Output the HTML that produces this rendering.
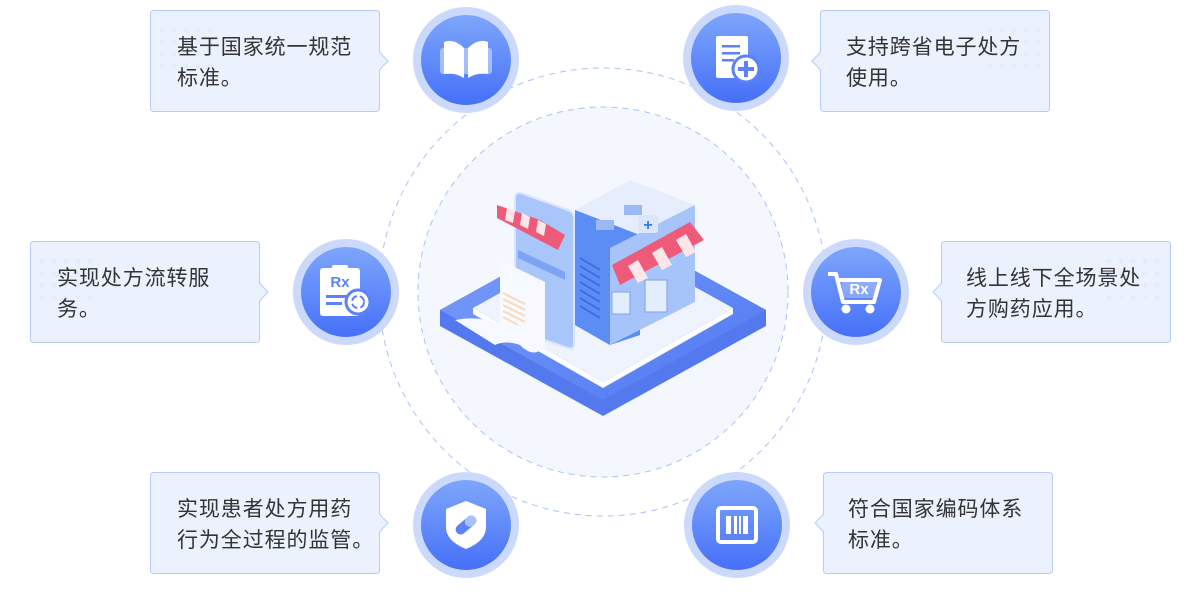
<!DOCTYPE html>
<html><head><meta charset="utf-8"><style>
html,body{margin:0;padding:0;background:#fff;}
body{width:1200px;height:610px;overflow:hidden;position:relative;font-family:"Liberation Sans","Noto Sans CJK SC",sans-serif;}
.t{position:absolute;font-size:21px;line-height:31px;color:#333;letter-spacing:0.9px;}
</style></head><body>
<svg width="1200" height="610" style="position:absolute;left:0;top:0">
<defs>
<linearGradient id="ig" x1="0" y1="0" x2="0" y2="1"><stop offset="0" stop-color="#7ea6fb"/><stop offset="1" stop-color="#4670f8"/></linearGradient>
<linearGradient id="pg" x1="0" y1="0" x2="1" y2="1"><stop offset="0" stop-color="#7d9ff8"/><stop offset="1" stop-color="#4f78f3"/></linearGradient>
<g id="card"><path d="M0.5 4 Q0.5 0.5 4 0.5 H226 Q229.5 0.5 229.5 4 V98 Q229.5 101.5 226 101.5 H4 Q0.5 101.5 0.5 98 Z" fill="#ebf2fe" stroke="#b7cdf7"/></g>
<g id="dots" fill="#e2ecfc"><circle cx="0" cy="0" r="2.5"/><circle cx="12" cy="0" r="2.5"/><circle cx="24" cy="0" r="2.5"/><circle cx="36" cy="0" r="2.5"/><circle cx="48" cy="0" r="2.5"/><circle cx="0" cy="12" r="2.5"/><circle cx="12" cy="12" r="2.5"/><circle cx="24" cy="12" r="2.5"/><circle cx="36" cy="12" r="2.5"/><circle cx="48" cy="12" r="2.5"/><circle cx="0" cy="24" r="2.5"/><circle cx="12" cy="24" r="2.5"/><circle cx="24" cy="24" r="2.5"/><circle cx="36" cy="24" r="2.5"/><circle cx="48" cy="24" r="2.5"/><circle cx="0" cy="36" r="2.5"/><circle cx="12" cy="36" r="2.5"/><circle cx="24" cy="36" r="2.5"/><circle cx="36" cy="36" r="2.5"/><circle cx="48" cy="36" r="2.5"/></g>
<g id="ic"><circle r="53" fill="#cbdafc"/><circle r="45" fill="url(#ig)"/></g>
</defs>
<circle cx="603" cy="292" r="224" fill="none" stroke="#a9c3f5" stroke-dasharray="6 5"/>
<circle cx="603" cy="292" r="185" fill="#f4f8fe" stroke="#a9c3f5" stroke-dasharray="6 5"/>
<g transform="translate(150,10)"><use href="#card"/><use href="#dots" x="12" y="20"/><path d="M229.5 42 L238 51 L229.5 60" fill="#ebf2fe" stroke="#b7cdf7"/><rect x="228" y="43" width="2" height="16" fill="#ebf2fe"/></g>
<g transform="translate(820,10)"><use href="#card"/><use href="#dots" x="170" y="20"/><path d="M0.5 42 L-8 51 L0.5 60" fill="#ebf2fe" stroke="#b7cdf7"/><rect x="0" y="43" width="2" height="16" fill="#ebf2fe"/></g>
<g transform="translate(30,241)"><use href="#card"/><use href="#dots" x="12" y="20"/><path d="M229.5 42 L238 51 L229.5 60" fill="#ebf2fe" stroke="#b7cdf7"/><rect x="228" y="43" width="2" height="16" fill="#ebf2fe"/></g>
<g transform="translate(941,241)"><use href="#card"/><use href="#dots" x="168" y="20"/><path d="M0.5 42 L-8 51 L0.5 60" fill="#ebf2fe" stroke="#b7cdf7"/><rect x="0" y="43" width="2" height="16" fill="#ebf2fe"/></g>
<g transform="translate(150,472)"><use href="#card"/><path d="M229.5 42 L238 51 L229.5 60" fill="#ebf2fe" stroke="#b7cdf7"/><rect x="228" y="43" width="2" height="16" fill="#ebf2fe"/></g>
<g transform="translate(823,472)"><use href="#card"/><path d="M0.5 42 L-8 51 L0.5 60" fill="#ebf2fe" stroke="#b7cdf7"/><rect x="0" y="43" width="2" height="16" fill="#ebf2fe"/></g>
<g transform="translate(466,60)"><use href="#ic"/><rect x="-26" y="-12" width="52" height="26" rx="3" fill="#b5cbfb" opacity="0.8"/><path d="M-2 -12 Q-12 -22 -22 -18 V14 Q-12 12 -2 18 Z" fill="#fff"/><path d="M2 -12 Q12 -22 22 -18 V14 Q12 12 2 18 Z" fill="#fff"/></g>
<g transform="translate(736,58)"><use href="#ic"/><rect x="-20" y="-22" width="32" height="42" rx="2" fill="#fff"/><g fill="#5b82f9"><rect x="-14" y="-13" width="18" height="2.5"/><rect x="-14" y="-6" width="18" height="2.5"/><rect x="-14" y="1" width="12" height="2.5"/></g><circle cx="10" cy="11" r="13" fill="#fff" stroke="#5b82f9" stroke-width="3"/><rect x="2" y="9" width="16" height="4" fill="#5b82f9"/><rect x="8" y="3" width="4" height="16" fill="#5b82f9"/></g>
<g transform="translate(346,292)"><use href="#ic"/><rect x="-26" y="-24" width="40" height="48" rx="3" fill="#fff"/><rect x="-14" y="-27" width="16" height="6" rx="2" fill="#fff"/><text x="-6" y="-5" font-size="15" font-weight="bold" fill="#5b82f9" text-anchor="middle" font-family="Liberation Sans">Rx</text><rect x="-20" y="3" width="22" height="3" fill="#5b82f9"/><rect x="-20" y="10" width="16" height="3" fill="#5b82f9"/><circle cx="12" cy="10" r="12" fill="#fff" stroke="#5b82f9" stroke-width="3"/><circle cx="12" cy="10" r="6" fill="none" stroke="#5b82f9" stroke-width="2" stroke-dasharray="7 3"/></g>
<g transform="translate(856,292)"><use href="#ic"/><path d="M-28 -18 H-20 L-13 10 H18 L24 -12 H-17" fill="none" stroke="#fff" stroke-width="4" stroke-linejoin="round"/><rect x="-14" y="-14" width="34" height="20" fill="#fff" opacity="0.25"/><text x="3" y="2" font-size="15" font-weight="bold" fill="#fff" text-anchor="middle" font-family="Liberation Sans">Rx</text><circle cx="-10" cy="17" r="4.5" fill="#fff"/><circle cx="14" cy="17" r="4.5" fill="#fff"/></g>
<g transform="translate(466,525)"><use href="#ic"/><path d="M0 -24 L20 -16 V2 Q20 16 0 24 Q-20 16 -20 2 V-16 Z" fill="#fff"/><rect x="-12" y="-5" width="24" height="10" rx="5" fill="#5b82f9" transform="rotate(-40)"/><rect x="0" y="-5" width="12" height="10" rx="5" fill="#a9c0fb" transform="rotate(-40)"/></g>
<g transform="translate(737,525)"><use href="#ic"/><rect x="-19" y="-17" width="38" height="34" rx="3" fill="none" stroke="#fff" stroke-width="4"/><rect x="-11" y="-9" width="5" height="18" fill="#fff"/><rect x="-3" y="-9" width="3" height="18" fill="#fff"/><rect x="2" y="-9" width="2" height="18" fill="#fff"/><rect x="6" y="-9" width="5" height="18" fill="#fff"/></g>
<!-- platform -->
<path d="M440 310 L603 220 L766 310 L766 326 L603 416 L440 326 Z" fill="#5479ef"/>
<path d="M440 310 L603 220 L766 310 L603 400 Z" fill="url(#pg)"/>
<path d="M473 308 L603 236 L733 308 L603 382 Z" fill="#eef3fd"/>
<path d="M473 308 L603 382 L733 308 L733 314 L603 388 L473 314 Z" fill="#fff"/>
<!-- building: left face dark, right face light -->
<path d="M575 210 L630 180 L695 205 L640 235 Z" fill="#e6eefd"/>
<path d="M575 210 L640 235 L640 335 L610 345 L575 325 Z" fill="#5b8df4"/>
<path d="M610 248 L695 205 L695 302 L610 345 Z" fill="#a7c4fa"/>
<path d="M575 210 L610 248 L610 345 L575 325 Z" fill="#5b8df4"/>
<g stroke="#3d6fe4" stroke-width="2"><line x1="580" y1="258" x2="600" y2="270"/><line x1="580" y1="266" x2="600" y2="278"/><line x1="580" y1="274" x2="600" y2="286"/><line x1="580" y1="282" x2="600" y2="294"/><line x1="580" y1="290" x2="600" y2="302"/><line x1="580" y1="298" x2="600" y2="310"/><line x1="580" y1="306" x2="600" y2="318"/></g>
<rect x="596" y="220" width="18" height="10" fill="#9ab9f4"/><rect x="624" y="205" width="18" height="10" fill="#9ab9f4"/>
<rect x="638" y="215" width="20" height="18" rx="3" fill="#dbe6fc"/><text x="648" y="230" font-size="16" font-weight="bold" fill="#2f7af0" text-anchor="middle">+</text>
<path d="M612 265 L690 222 L704 240 L620 285 Z" fill="#ee5a7a"/>
<path d="M628 266 L638 260 L648 278 L638 283 Z M652 253 L662 247 L672 265 L662 270 Z M676 240 L686 234 L696 252 L686 257 Z" fill="#fde6ea"/>
<rect x="612" y="292" width="18" height="22" fill="#e2edfd" stroke="#7da0f0"/>
<rect x="645" y="280" width="22" height="32" fill="#e2edfd" stroke="#7da0f0"/>
<!-- phone -->
<path d="M515 198 Q515 192 521 193 L568 210 Q574 212 574 218 L574 345 Q574 350 568 348 L521 332 Q515 330 515 324 Z" fill="#a9c6fb" stroke="#dbe6fd" stroke-width="2"/>
<path d="M497 205 L540 220 L565 235 L558 250 L497 218 Z" fill="#ee5a7a"/>
<path d="M507 208 L515 211 L513 223 L505 220 Z M522 213 L530 217 L528 229 L520 225 Z M538 220 L546 224 L544 236 L536 232 Z" fill="#fde6ea"/>
<path d="M500 260 L545 282 L545 345 Q535 360 520 345 Q505 340 495 345 L455 320 Q480 315 500 325 Z" fill="#f6f9ff"/>
<g stroke="#fcd9b8" stroke-width="2"><line x1="503" y1="293" x2="525" y2="304"/><line x1="503" y1="299" x2="525" y2="310"/><line x1="503" y1="305" x2="525" y2="316"/><line x1="503" y1="311" x2="525" y2="322"/><line x1="503" y1="317" x2="518" y2="325"/></g>
<path d="M518 250 L565 272 L565 280 L518 258 Z" fill="#7da3f5"/>
</svg>
<div class="t" style="left:177px;top:32px">基于国家统一规范<br>标准。</div>
<div class="t" style="left:846px;top:32px">支持跨省电子处方<br>使用。</div>
<div class="t" style="left:57px;top:263px">实现处方流转服<br>务。</div>
<div class="t" style="left:966px;top:263px">线上线下全场景处<br>方购药应用。</div>
<div class="t" style="left:177px;top:494px">实现患者处方用药<br>行为全过程的监管。</div>
<div class="t" style="left:848px;top:494px">符合国家编码体系<br>标准。</div>
</body></html>
